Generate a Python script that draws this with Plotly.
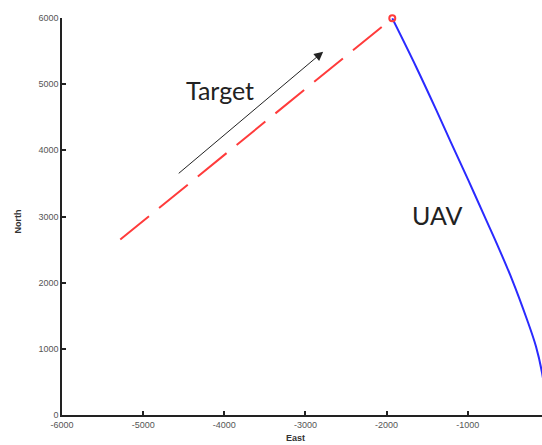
import plotly.graph_objects as go

# Target trajectory (East, North)
target_east = [-5282, -1950]
target_north = [2651, 5975]

# Intercept point
meet_east = [-1930]
meet_north = [5995]

# UAV trajectory (East, North)
uav_east = [-1930, -1637, -1390, -1206, -996, -775, -664, -454, -270, -159, -85, -40]
uav_north = [5995, 5264, 4615, 4116, 3557, 2953, 2651, 2047, 1443, 1035, 642, 250]

x_ticks = [-6000, -5000, -4000, -3000, -2000, -1000]
y_ticks = [0, 1000, 2000, 3000, 4000, 5000, 6000]

fig = go.Figure()
fig.add_trace(go.Scatter(x=target_east, y=target_north, mode="lines",
                         line=dict(color="#ff3b3b", width=2, dash="37px,13px"),
                         showlegend=False, hoverinfo="skip"))
fig.add_trace(go.Scatter(x=uav_east, y=uav_north, mode="lines",
                         line=dict(color="#2a2aff", width=2, shape="spline", smoothing=1.0),
                         showlegend=False, hoverinfo="skip"))
fig.add_trace(go.Scatter(x=meet_east, y=meet_north, mode="markers",
                         marker=dict(symbol="circle-open", size=6, color="#ff3b3b",
                                     line=dict(width=2, color="#ff3b3b")),
                         cliponaxis=False, showlegend=False, hoverinfo="skip"))

tickfont = dict(family="Liberation Sans, Arial", size=9, color="#555")
fig.update_xaxes(range=[-6000, -85], tickvals=x_ticks, ticktext=[str(v) for v in x_ticks],
                 showgrid=False, zeroline=False, showline=True, linecolor="#222",
                 linewidth=1.5, ticks="inside", ticklen=4, tickwidth=1.5, tickcolor="#222",
                 tickfont=tickfont)
fig.update_yaxes(range=[0, 6000], tickvals=y_ticks, ticktext=[str(v) for v in y_ticks],
                 showgrid=False, zeroline=False, showline=True, linecolor="#222",
                 linewidth=1.5, ticks="inside", ticklen=4, tickwidth=1.5, tickcolor="#222",
                 tickfont=tickfont)

annotations = [
    dict(x=-2782, y=5491, ax=-4580, ay=3633, xref="x", yref="y", axref="x", ayref="y",
         text="", showarrow=True, arrowhead=2, arrowsize=1.8, arrowwidth=1, arrowcolor="#222"),
    dict(x=-4050, y=4917, xref="x", yref="y", text="Target", showarrow=False,
         font=dict(family="Lato", size=25, color="#222")),
    dict(x=-1378, y=3029, xref="x", yref="y", text="UAV", showarrow=False,
         font=dict(family="Lato", size=25, color="#222")),
    dict(x=-3127, y=0, xref="x", yref="paper", text="<b>East</b>", showarrow=False,
         yanchor="top", yshift=-16, font=dict(family="Liberation Sans, Arial", size=9, color="#333")),
    dict(x=-6000, y=2923, xref="x", yref="y", text="<b>North</b>", showarrow=False,
         textangle=-90, xshift=-44, font=dict(family="Liberation Sans, Arial", size=9, color="#333")),
]

fig.update_layout(width=542, height=445, margin=dict(l=62, r=0, t=18, b=30),
                  plot_bgcolor="white", paper_bgcolor="white", annotations=annotations)

fig.write_html("out.html")
